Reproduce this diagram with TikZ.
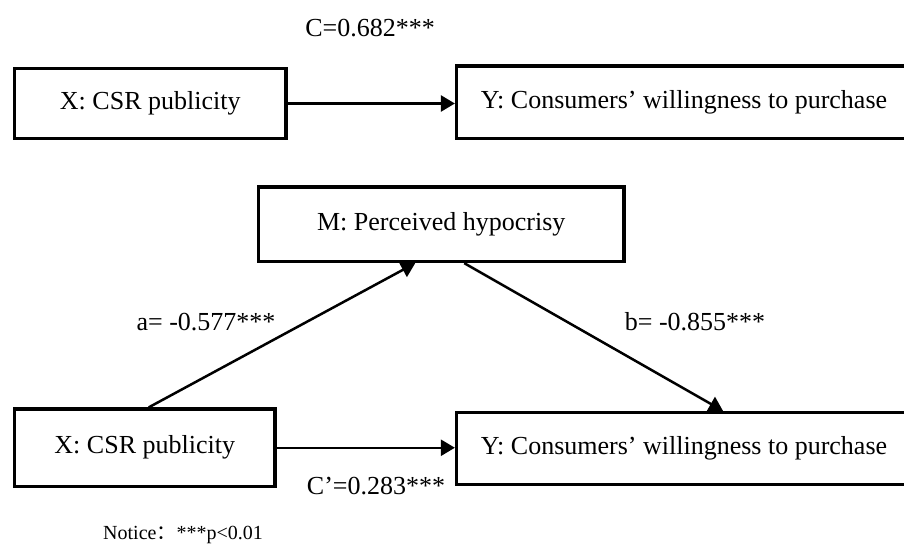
\documentclass[tikz,border=0pt]{standalone}
\usepackage{fontspec}
\setmainfont{Liberation Serif}
\newfontfamily\cjkfont{Noto Sans CJK SC}
\usetikzlibrary{arrows.meta,calc}
\begin{document}
\begin{tikzpicture}[x=1pt,y=-1pt,
  box/.style={draw,line width=3.3pt,inner sep=0pt,anchor=center,font=\fontsize{26}{30}\selectfont},
  conn/.style={line width=2.5pt,-{Triangle[length=14pt,width=16pt]}},
  lbl/.style={inner sep=0pt,anchor=center,font=\fontsize{26}{30}\selectfont}]
\useasboundingbox (0,0) rectangle (904,544);
\clip (0,0) rectangle (904,544);
% top model
\node[box,minimum width=271.5pt,minimum height=70pt] (tx) at (150.25,103.5) {X: CSR publicity};
\node[box,minimum width=455pt,minimum height=72.5pt] (ty) at (684,102.25) {Y: Consumers’ willingness to purchase};
\draw[conn] (tx.east) -- (tx.east -| ty.west);
\node[lbl] (c) at (370,28) {C=0.682***};
% mediation model
\node[box,minimum width=365.5pt,minimum height=74.5pt] (m) at (441.25,224.25) {M: Perceived hypocrisy};
\node[box,minimum width=260.5pt,minimum height=77.5pt] (bx) at (144.75,447.75) {X: CSR publicity};
\node[box,minimum width=455pt,minimum height=72pt] (by) at (684,448.5) {Y: Consumers’ willingness to purchase};
\draw[conn] ([xshift=4pt]bx.north) -- ([xshift=-26pt]m.south);
\draw[conn] ([xshift=23pt]m.south) -- ([xshift=39pt]by.north);
\draw[conn] (bx.east) -- (bx.east -| by.west);
\node[lbl] (a) at (206,322) {a= -0.577***};
\node[lbl] (b) at (695,322) {b= -0.855***};
\node[lbl] (cp) at (376,486) {C’=0.283***};
\node[inner sep=0pt,anchor=base west,font=\fontsize{20}{24}\selectfont] (note) at (103,539) {Notice{\cjkfont ：}***p<0.01};
\end{tikzpicture}
\end{document}
